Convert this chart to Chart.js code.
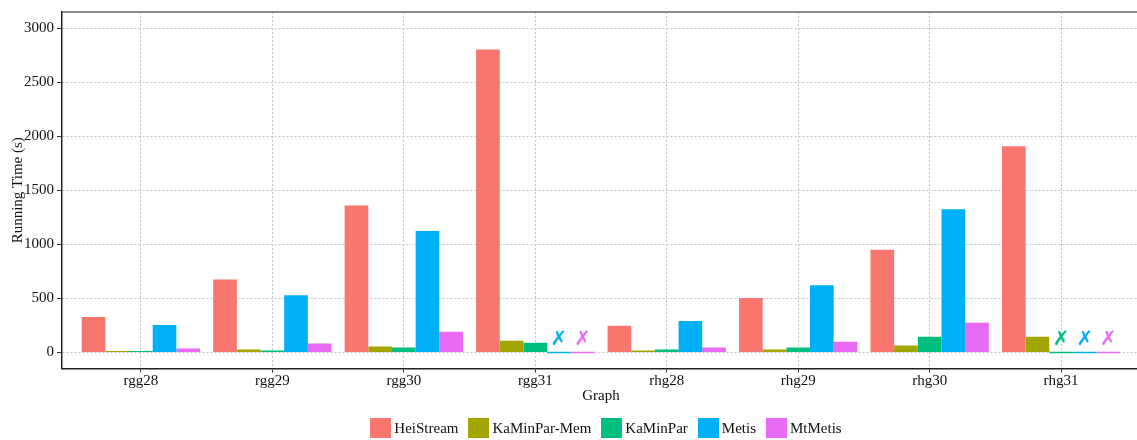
<!DOCTYPE html>
<html lang="en">
<head>
<meta charset="UTF-8">
<title>Running time per graph</title>
<script src="https://cdn.jsdelivr.net/npm/chart.js"></script>
<style>
  body { margin: 0; overflow: hidden; background: #fff; }
  .wrap { position: relative; width: 1212px; height: 440px; }
  #legend {
    position: absolute; left: 0; top: 418px; width: 1212px;
    display: flex; justify-content: center;
    font: 15px "Liberation Serif", serif; color: #111; line-height: 20px;
  }
  .item { display: flex; align-items: center; margin: 0 5px; }
  .box { width: 21px; height: 20px; margin-right: 3px; }
</style>
</head>
<body>
<div class="wrap">
  <canvas id="timeChart" width="1212" height="440"></canvas>
  <div id="legend"></div>
</div>

<script>
// running time in seconds, null = run did not finish
const graphs = ['rgg28', 'rgg29', 'rgg30', 'rgg31', 'rhg28', 'rhg29', 'rhg30', 'rhg31'];
const heiStream   = [329, 675, 1360, 2801, 248, 503, 950, 1907];
const kaMinParMem = [10, 27, 55, 109, 18, 27, 64, 146];
const kaMinPar    = [10, 18, 46, 91, 27, 46, 146, null];
const metis       = [255, 529, 1123, null, 292, 621, 1324, null];
const mtMetis     = [36, 82, 191, null, 46, 100, 274, null];
const yTicks = [0, 500, 1000, 1500, 2000, 2500, 3000];
const failMarkLevel = 115;

const series = [
    { label: 'HeiStream',    values: heiStream,   color: '#F8766D' },
    { label: 'KaMinPar-Mem', values: kaMinParMem, color: '#A3A500' },
    { label: 'KaMinPar',     values: kaMinPar,    color: '#00BF7D' },
    { label: 'Metis',        values: metis,       color: '#00B0F6' },
    { label: 'MtMetis',      values: mtMetis,     color: '#E76BF3' }
];

const serif = 'Liberation Serif';
const gridColor = '#c4c4c4';

// crosses over the runs that failed + thin frame line on top
const failMarks = {
    id: 'failMarks',
    afterDatasetsDraw(chart) {
        const ctx = chart.ctx;
        const y = chart.scales.y.getPixelForValue(failMarkLevel);
        ctx.save();
        ctx.font = '20px "DejaVu Sans"';
        ctx.textAlign = 'center';
        ctx.textBaseline = 'middle';
        series.forEach((s, d) => {
            const meta = chart.getDatasetMeta(d);
            s.values.forEach((v, i) => {
                if (v === null) {
                    ctx.fillStyle = s.color;
                    ctx.fillText('\u2717', meta.data[i].x, y);
                }
            });
        });
        ctx.restore();
    },
    afterDraw(chart) {
        const a = chart.chartArea;
        const ctx = chart.ctx;
        ctx.save();
        ctx.strokeStyle = '#666';
        ctx.lineWidth = 1.5;
        ctx.beginPath();
        ctx.moveTo(a.left, a.top);
        ctx.lineTo(a.right, a.top);
        ctx.stroke();
        ctx.restore();
    }
};

const ctx = document.getElementById('timeChart').getContext('2d');
const chart = new Chart(ctx, {
    type: 'bar',
    data: {
        datasets: series.map(s => ({
            label: s.label,
            data: s.values.map((v, i) => ({ x: i, y: v === null ? 0 : v })),
            backgroundColor: s.color,
            borderWidth: 0,
            minBarLength: 1.5,
            categoryPercentage: 0.9,
            barPercentage: 1.0
        }))
    },
    options: {
        responsive: false,
        animation: false,
        layout: { padding: { top: 7, left: 0, right: 72, bottom: 0 } },
        plugins: {
            legend: { display: false },
            tooltip: { enabled: false }
        },
        scales: {
            x: {
                type: 'linear',
                min: -0.6,
                max: 7.6,
                offset: false,
                afterBuildTicks: axis => { axis.ticks = graphs.map((g, i) => ({ value: i })); },
                afterFit: axis => { axis.height = 71.5; },
                ticks: {
                    callback: v => graphs[v],
                    font: { family: serif, size: 15 },
                    color: '#111',
                    padding: 0,
                    maxRotation: 0
                },
                grid: { offset: false, color: gridColor, tickColor: '#333', tickLength: 4 },
                border: { color: '#222', width: 1.5, dash: [2, 2] },
                title: {
                    display: true,
                    text: 'Graph',
                    font: { family: serif, size: 15 },
                    color: '#111',
                    padding: { top: 0, bottom: 35 }
                }
            },
            y: {
                min: -148,
                max: 3148,
                afterBuildTicks: axis => { axis.ticks = yTicks.map(v => ({ value: v })); },
                afterFit: axis => { axis.width = 62; },
                ticks: {
                    callback: v => String(v),
                    font: { family: serif, size: 15 },
                    color: '#111',
                    padding: 3
                },
                grid: { color: gridColor, tickColor: '#333', tickLength: 5 },
                border: { color: '#222', width: 1.5, dash: [2, 2] },
                title: {
                    display: true,
                    text: 'Running Time (s)',
                    font: { family: serif, size: 15 },
                    color: '#111',
                    padding: { top: 9, bottom: 0 }
                }
            }
        }
    },
    plugins: [failMarks]
});

// legend row under the plot
const legend = document.getElementById('legend');
chart.data.datasets.forEach(ds => {
    const item = document.createElement('div');
    item.className = 'item';
    const box = document.createElement('span');
    box.className = 'box';
    box.style.background = ds.backgroundColor;
    item.appendChild(box);
    item.appendChild(document.createTextNode(ds.label));
    legend.appendChild(item);
});
</script>
</body>
</html>
